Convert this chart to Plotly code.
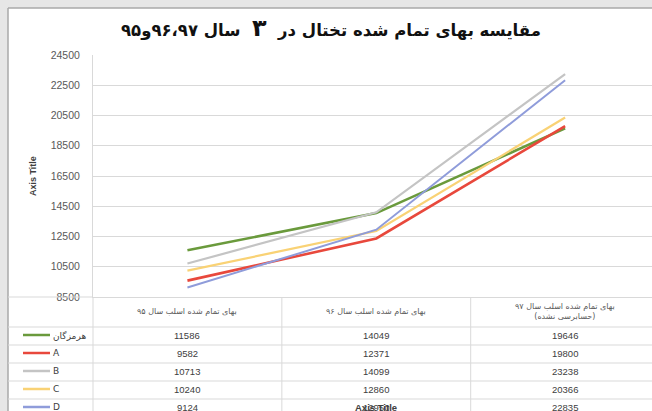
import plotly.graph_objects as go

# ---------------- data ----------------
categories = ["سال ۹۵", "سال ۹۶", "سال ۹۷"]
header_labels = [
    "بهای تمام شده اسلب سال ۹۵",
    "بهای تمام شده اسلب سال ۹۶",
    "بهای تمام شده اسلب سال ۹۷<br>(حسابرسی نشده)",
]
series_names = ["هرمزگان", "A", "B", "C", "D"]
hormozgan = [11586, 14049, 19646]
series_a = [9582, 12371, 19800]
series_b = [10713, 14099, 23238]
series_c = [10240, 12860, 20366]
series_d = [9124, 12950, 22835]
y_ticks = [8500, 10500, 12500, 14500, 16500, 18500, 20500, 22500, 24500]
title_text = ("مقایسه بهای تمام شده تختال در  "
              "<span style='font-size:24px'>۳</span>  سال ۹۶،۹۷و۹۵")

series_values = [hormozgan, series_a, series_b, series_c, series_d]
colors = ["#6a9a3c", "#e8483c", "#c4c4c4", "#f9d275", "#8f9cda"]
widths = [2.6, 2.6, 2.2, 2.2, 2.0]

# ---------------- geometry helpers ----------------
W, H = 652, 411
L, T, B_ = 93, 55, 297          # plot left, top, bottom in px
PW = W - L
PH = B_ - T


def px(x):
    return (x - L) / PW


def py(y):
    return (B_ - y) / PH


fig = go.Figure()
for name, vals, c, w in zip(series_names, series_values, colors, widths):
    fig.add_trace(go.Scatter(x=categories, y=vals, mode="lines", name=name,
                             line=dict(color=c, width=w)))

shapes = []
annotations = []

# outer frame
shapes.append(dict(type="rect", xref="paper", yref="paper", x0=px(0), x1=px(W),
                   y0=py(0), y1=py(8), fillcolor="#e6e6e6", line_width=0, layer="above"))
shapes.append(dict(type="rect", xref="paper", yref="paper", x0=px(0), x1=px(8),
                   y0=py(0), y1=py(H), fillcolor="#e6e6e6", line_width=0, layer="above"))
shapes.append(dict(type="line", xref="paper", yref="paper", x0=px(8), x1=px(W),
                   y0=py(8), y1=py(8), line=dict(color="#a8a8a8", width=1.5)))
shapes.append(dict(type="line", xref="paper", yref="paper", x0=px(8), x1=px(8),
                   y0=py(8), y1=py(H), line=dict(color="#a8a8a8", width=1.5)))

# table grid
grid_c = "#d9d9d9"
row_lines = [327, 345, 363, 381, 399]
for yy in row_lines:
    shapes.append(dict(type="line", xref="paper", yref="paper", x0=px(8), x1=px(W),
                       y0=py(yy), y1=py(yy), line=dict(color=grid_c, width=1)))
shapes.append(dict(type="line", xref="paper", yref="paper", x0=px(8), x1=px(L),
                   y0=py(B_), y1=py(B_), line=dict(color=grid_c, width=1)))
for xv in [0.5, 1.5]:
    shapes.append(dict(type="line", xref="x", yref="paper", x0=xv, x1=xv,
                       y0=py(B_), y1=py(H), line=dict(color=grid_c, width=1)))
shapes.append(dict(type="line", xref="paper", yref="paper", x0=0, x1=0,
                   y0=py(B_), y1=py(H), line=dict(color=grid_c, width=1)))

# header labels
for cat, lab in zip(categories, header_labels):
    annotations.append(dict(x=cat, xref="x", yref="paper", y=py(311), yanchor="middle",
                            text=lab, showarrow=False,
                            font=dict(size=8, color="#595959", family="DejaVu Sans")))

# table rows
row_centers = [335, 353, 371, 389, 407]
for name, vals, c, rc in zip(series_names, series_values, colors, row_centers):
    shapes.append(dict(type="line", xref="paper", yref="paper", x0=px(23), x1=px(50),
                       y0=py(rc), y1=py(rc), line=dict(color=c, width=2.5)))
    annotations.append(dict(x=px(51), xref="paper", xanchor="left", yref="paper",
                            y=py(rc), yanchor="middle", text=name, showarrow=False,
                            font=dict(size=9, color="#404040", family="DejaVu Sans")))
    for cat, v in zip(categories, vals):
        annotations.append(dict(x=cat, xref="x", yref="paper", y=py(rc),
                                yanchor="middle", text=str(v), showarrow=False,
                                font=dict(size=9.5, color="#404040",
                                          family="Liberation Sans")))

# horizontal axis title overlapping the table (as in the source)
annotations.append(dict(x=categories[1], xref="x", yref="paper", y=py(407),
                        yanchor="middle", text="<b>Axis Title</b>", showarrow=False,
                        font=dict(size=9.5, color="#404040", family="Liberation Sans")))

# vertical axis title
annotations.append(dict(x=px(33), xref="paper", yref="paper", y=py(176),
                        yanchor="middle", xanchor="center",
                        text="<b>Axis Title</b>", textangle=-90, showarrow=False,
                        font=dict(size=9, color="#404040", family="Liberation Sans")))

# chart title
annotations.append(dict(x=px(331), xref="paper", yref="paper", y=py(28),
                        yanchor="middle", xanchor="center",
                        text="<b>" + title_text + "</b>", showarrow=False,
                        font=dict(size=16.5, color="#111111", family="DejaVu Sans")))

fig.update_layout(
    width=W, height=H,
    margin=dict(l=L, r=0, t=T, b=H - B_, pad=0),
    paper_bgcolor="white", plot_bgcolor="white",
    showlegend=False,
    shapes=shapes, annotations=annotations,
    xaxis=dict(type="category", range=[-0.5, 2.46], showticklabels=False,
               showgrid=False, zeroline=False, showline=True, linecolor=grid_c,
               linewidth=1),
    yaxis=dict(range=[8500, 24500], tickvals=y_ticks, tickformat="d", showgrid=True,
               gridcolor=grid_c, gridwidth=1, zeroline=False, showline=True,
               linecolor=grid_c, linewidth=1, ticklabelstandoff=10,
               tickfont=dict(size=10.5, color="#595959", family="Liberation Sans")),
)

fig.write_html("out.html",
               config={"displayModeBar": False},
               post_script="document.body.style.margin='0';"
                           "document.body.style.overflow='hidden';")
